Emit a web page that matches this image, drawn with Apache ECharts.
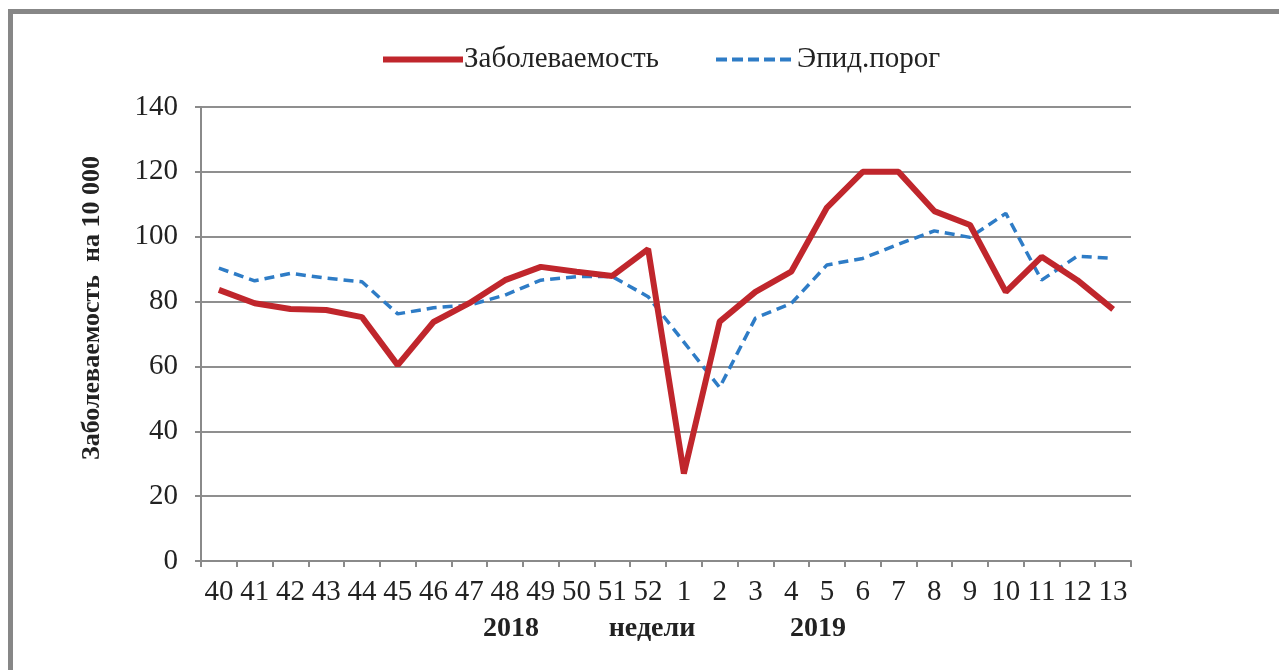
<!DOCTYPE html>
<html><head><meta charset="utf-8">
<script src="https://cdn.jsdelivr.net/npm/echarts@6/dist/echarts.min.js"></script>
<style>html,body{margin:0;padding:0;background:#fff}#c{width:1279px;height:670px}</style>
</head><body><div id="c"></div>
<script>
const weeks = ['40','41','42','43','44','45','46','47','48','49','50','51','52','1','2','3','4','5','6','7','8','9','10','11','12','13'];
const incidence = [83.6,79.5,77.7,77.4,75.2,60.4,73.7,79.5,86.6,90.7,89.2,87.9,96.2,27.0,73.8,83.0,89.2,109.0,120,120,107.9,103.6,83.0,93.8,86.6,77.6];
const threshold = [90.3,86.4,88.7,87.2,86.1,76.2,78.1,78.9,82.0,86.6,87.7,87.7,81.5,67.5,53.5,74.9,79.4,91.3,93.3,97.7,101.8,99.8,107.2,86.6,94.0,93.3];
const yTicks = {min:0, max:140, interval:20};
const seriesNames = ['Заболеваемость','Эпид.порог'];
const yTitle = 'Заболеваемость  на 10 000';
const bottomLabels = ['2018','недели','2019'];

const chart = echarts.init(document.getElementById('c'), null, {renderer:'canvas'});
const serif = '"Liberation Serif","Times New Roman",serif';
chart.setOption({
  animation:false,
  backgroundColor:'#fff',
  grid:{left:201,right:148,top:107,bottom:109,containLabel:false},
  legend:{
    top:40,left:375,itemGap:55,itemWidth:80,itemHeight:14,
    data:[
      {name:seriesNames[0],itemStyle:{opacity:0},lineStyle:{width:6,color:'#c0262c'}},
      {name:seriesNames[1],itemStyle:{opacity:0},lineStyle:{width:4,color:'#2e7cc6',type:[11,5]}}
    ],
    itemStyle:{opacity:0},
    textStyle:{fontFamily:serif,fontSize:29,color:'#222',padding:[0,0,0,-4]}
  },
  xAxis:{
    type:'category',data:weeks,boundaryGap:true,
    axisLine:{lineStyle:{color:'#8a8a8a',width:2}},
    axisTick:{show:true,length:6,lineStyle:{color:'#8a8a8a',width:2}},
    axisLabel:{interval:0,margin:17,fontFamily:serif,fontSize:29,color:'#222'}
  },
  yAxis:{
    type:'value',min:yTicks.min,max:yTicks.max,interval:yTicks.interval,
    axisLine:{show:true,lineStyle:{color:'#8a8a8a',width:2}},
    axisTick:{show:true,length:6,lineStyle:{color:'#8a8a8a',width:2}},
    splitLine:{lineStyle:{color:'#8f8f8f',width:2}},
    axisLabel:{margin:23,fontFamily:serif,fontSize:29,color:'#222'}
  },
  series:[
    {name:seriesNames[0],type:'line',data:incidence,symbol:'none',z:3,
     lineStyle:{color:'#c0262c',width:6},itemStyle:{color:'#c0262c'}},
    {name:seriesNames[1],type:'line',data:threshold,symbol:'none',z:2,
     lineStyle:{color:'#2e7cc6',width:3.5,type:[10,6]},itemStyle:{color:'#2e7cc6'}}
  ],
  graphic:[
    {type:'rect',shape:{x:8,y:9,width:1300,height:5},style:{fill:'#878787'},silent:true},
    {type:'rect',shape:{x:8,y:9,width:5,height:700},style:{fill:'#878787'},silent:true},
    {type:'text',x:92,y:308,rotation:Math.PI/2,style:{text:yTitle,fontFamily:serif,fontWeight:'bold',fontSize:26,fill:'#222',align:'center',verticalAlign:'middle'}},
    {type:'text',x:511,y:629,style:{text:bottomLabels[0],fontFamily:serif,fontWeight:'bold',fontSize:28,fill:'#222',align:'center',verticalAlign:'middle'}},
    {type:'text',x:652,y:629,style:{text:bottomLabels[1],fontFamily:serif,fontWeight:'bold',fontSize:28,fill:'#222',align:'center',verticalAlign:'middle'}},
    {type:'text',x:818,y:629,style:{text:bottomLabels[2],fontFamily:serif,fontWeight:'bold',fontSize:28,fill:'#222',align:'center',verticalAlign:'middle'}}
  ]
});
</script></body></html>
